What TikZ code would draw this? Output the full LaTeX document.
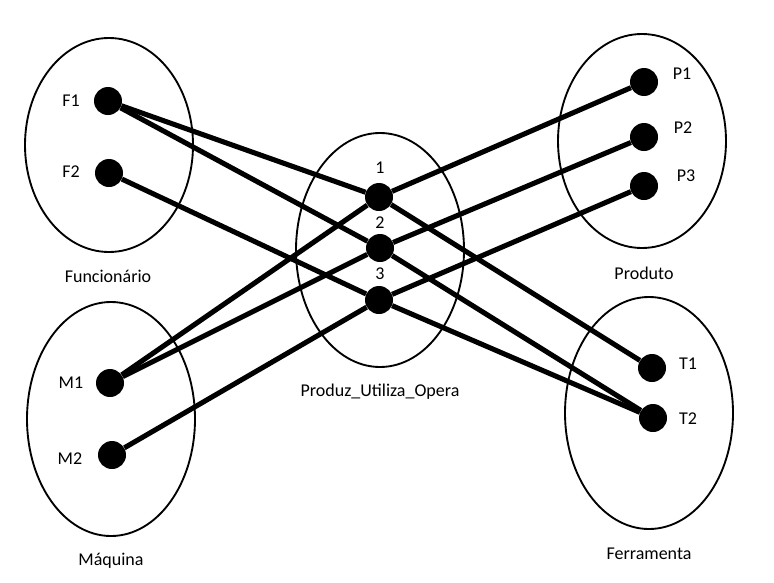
\documentclass[tikz,border=0pt]{standalone}
\usepackage{fontspec}
\setmainfont{Carlito}
\begin{document}
\begin{tikzpicture}[x=0.75pt,y=-0.75pt,
  dot/.style={circle,fill=black,minimum size=21pt,inner sep=0pt},
  lbl/.style={font=\fontsize{13.5}{16}\selectfont,inner sep=0pt},
  set/.style={draw=black,line width=1.4pt},
  link/.style={draw=black,line width=3.8pt}]
\useasboundingbox (0,0) rectangle (774,582);
% sets
\draw[set] (109,145) ellipse [x radius=84, y radius=107];
\draw[set] (111,419) ellipse [x radius=84, y radius=117];
\draw[set] (380,250) ellipse [x radius=84, y radius=117];
\draw[set] (642,141) ellipse [x radius=84, y radius=107];
\draw[set] (649,413) ellipse [x radius=84, y radius=116];
% dots
\node[dot] (F1) at (108,101) {};
\node[dot] (F2) at (109,173) {};
\node[dot] (M1) at (110,383) {};
\node[dot] (M2) at (112,455) {};
\node[dot] (R1) at (379,197) {};
\node[dot] (R2) at (380,248) {};
\node[dot] (R3) at (379,300) {};
\node[dot] (P1) at (644,82) {};
\node[dot] (P2) at (644,137) {};
\node[dot] (P3) at (644,186) {};
\node[dot] (T1) at (652,368) {};
\node[dot] (T2) at (653,418) {};
% links
\draw[link] (F1) -- (R1);
\draw[link] (F1) -- (R2);
\draw[link] (F2) -- (R3);
\draw[link] (M1) -- (R1);
\draw[link] (M1) -- (R2);
\draw[link] (M2) -- (R3);
\draw[link] (R1) -- (P1);
\draw[link] (R2) -- (P2);
\draw[link] (R3) -- (P3);
\draw[link] (R1) -- (T1);
\draw[link] (R2) -- (T2);
\draw[link] (R3) -- (T2);
% labels
\node[lbl] (lF1) at (71,101) {F1};
\node[lbl] (lF2) at (71,172) {F2};
\node[lbl] (lM1) at (71,383) {M1};
\node[lbl] (lM2) at (70,459) {M2};
\node[lbl] (l1) at (380,168) {1};
\node[lbl] (l2) at (380,223) {2};
\node[lbl] (l3) at (380,274) {3};
\node[lbl] (lP1) at (682,74) {P1};
\node[lbl] (lP2) at (683,128) {P2};
\node[lbl] (lP3) at (686,176) {P3};
\node[lbl] (lT1) at (688,364) {T1};
\node[lbl] (lT2) at (688,419) {T2};
\node[lbl] (nF) at (108,276) {Funcionário};
\node[lbl] (nM) at (111,561) {Máquina};
\node[lbl] (nR) at (380,392) {Produz\_Utiliza\_Opera};
\node[lbl] (nP) at (644,273) {Produto};
\node[lbl] (nT) at (649,554) {Ferramenta};
\end{tikzpicture}
\end{document}
